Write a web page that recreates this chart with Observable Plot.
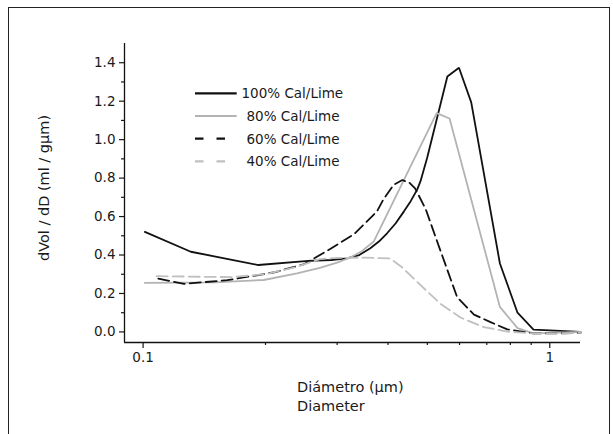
<!DOCTYPE html>
<html><head><meta charset="utf-8">
<script src="https://cdn.jsdelivr.net/npm/d3@7"></script>
<script src="https://cdn.jsdelivr.net/npm/@observablehq/plot@0.6"></script>
<style>
html,body{margin:0;padding:0;background:#fff;overflow:hidden;}
#wrap{position:relative;width:613px;height:434px;overflow:hidden;}
#border{position:absolute;left:8px;top:7px;width:600px;height:450px;border:1.5px solid #222;border-bottom:none;}
#chart{position:absolute;left:0;top:0;}
</style></head><body>
<div id="wrap"><div id="border"></div><div id="chart"></div></div>
<script>
// ---- data ----
const x100 = [0.101, 0.131, 0.192, 0.255, 0.29, 0.317, 0.34, 0.362, 0.38, 0.398, 0.418, 0.438, 0.455, 0.472, 0.481, 0.4995, 0.56, 0.598, 0.641, 0.754, 0.833, 0.912, 1.0, 1.19];
const y100 = [0.52, 0.417, 0.348, 0.37, 0.374, 0.382, 0.40, 0.435, 0.47, 0.513, 0.565, 0.627, 0.68, 0.74, 0.784, 0.906, 1.328, 1.374, 1.194, 0.356, 0.10, 0.012, 0.008, 0.0];

const x80 = [0.101, 0.15, 0.198, 0.239, 0.272, 0.30, 0.323, 0.345, 0.369, 0.527, 0.567, 0.754, 0.833, 0.912, 1.0, 1.19];
const y80 = [0.255, 0.258, 0.27, 0.304, 0.333, 0.36, 0.387, 0.42, 0.47, 1.138, 1.11, 0.13, 0.02, -0.008, -0.005, 0.0];

const x60 = [0.109, 0.126, 0.161, 0.209, 0.248, 0.281, 0.33, 0.376, 0.39, 0.413, 0.434, 0.452, 0.467, 0.495, 0.539, 0.592, 0.651, 0.715, 0.786, 0.91, 1.0, 1.19];
const y60 = [0.277, 0.25, 0.269, 0.309, 0.351, 0.417, 0.508, 0.627, 0.69, 0.765, 0.79, 0.775, 0.745, 0.64, 0.42, 0.18, 0.09, 0.051, 0.013, -0.008, -0.008, -0.005];

const x40 = [0.108, 0.138, 0.165, 0.2, 0.24, 0.272, 0.30, 0.35, 0.405, 0.434, 0.472, 0.539, 0.603, 0.688, 0.786, 0.91, 1.0, 1.19];
const y40 = [0.29, 0.287, 0.285, 0.30, 0.34, 0.379, 0.385, 0.386, 0.382, 0.335, 0.26, 0.145, 0.075, 0.025, 0.002, -0.008, -0.008, -0.005];

const seriesNames = ["100% Cal/Lime", "80% Cal/Lime", "60% Cal/Lime", "40% Cal/Lime"];
const seriesColors = ["#111111", "#b3b3b3", "#111111", "#c0c0c0"];
const seriesDash = [null, null, "11,5", "11,5"];
const seriesX = [x100, x80, x60, x40];
const seriesY = [y100, y80, y60, y40];

const xMajorTicks = [0.1, 1];
const xMinorTicks = [0.2, 0.3, 0.4, 0.5, 0.6, 0.7, 0.8, 0.9];
const yMajorTicks = [0, 0.2, 0.4, 0.6, 0.8, 1.0, 1.2, 1.4];
const yMinorTicks = [0.1, 0.3, 0.5, 0.7, 0.9, 1.1, 1.3];
const xDomain = [0.09, 1.19];
const yDomain = [-0.055, 1.5];

const xTitle = "Diámetro (μm)";
const xTitle2 = "Diameter";
const yTitle = "dVol / dD (ml / gμm)";

// ---- build ----
const rows = seriesNames.flatMap((name, i) => seriesX[i].map((x, j) => ({series: name, x, y: seriesY[i][j]})));

const FONT = "DejaVu Sans";
const lineMarks = seriesNames.map((name, i) =>
  Plot.line(rows.filter(d => d.series === name), {
    x: "x", y: "y", stroke: seriesColors[i], strokeWidth: 1.8,
    strokeDasharray: seriesDash[i] || undefined, strokeLinejoin: "miter"
  })
);

const plot = Plot.plot({
  width: 613, height: 434,
  marginLeft: 124, marginRight: 33, marginTop: 43, marginBottom: 92,
  style: {fontFamily: FONT, fontSize: "13.5px", color: "#1a1a1a", background: "transparent"},
  x: {type: "log", domain: xDomain, label: null},
  y: {domain: yDomain, label: null},
  marks: [
    ...lineMarks,
    Plot.axisX(xMinorTicks, {tickSize: 3, tickFormat: () => "", label: null, strokeWidth: 1.2}),
    Plot.axisX(xMajorTicks, {tickSize: 6, tickPadding: 4, tickFormat: d => String(d), label: null, strokeWidth: 1.2}),
    Plot.axisY(yMinorTicks, {tickSize: 3, tickFormat: () => "", label: null, strokeWidth: 1.2}),
    Plot.axisY(yMajorTicks, {tickSize: 5, tickPadding: 4, tickFormat: d => d.toFixed(1), label: null, strokeWidth: 1.2}),
    Plot.ruleX([xDomain[0]], {stroke: "#111", strokeWidth: 1.3}),
    Plot.ruleY([yDomain[0]], {stroke: "#111", strokeWidth: 1.3})
  ]
});
document.getElementById("chart").appendChild(plot);

// ---- titles and legend added to the svg ----
const svg = d3.select(plot);
const g = svg.append("g").attr("font-family", FONT).attr("font-size", "14.5px").attr("fill", "#1a1a1a").attr("text-anchor", "start");
g.append("text").attr("x", 297).attr("y", 391.5).text(xTitle);
g.append("text").attr("x", 297).attr("y", 411).text(xTitle2);
g.append("text").attr("transform", "translate(49,188) rotate(-90)").attr("text-anchor", "middle").text(yTitle);

const lg = svg.append("g").attr("font-family", FONT).attr("font-size", "13.5px").attr("text-anchor", "start");
const legendDash = [null, null, "8.5,13", "8.5,13"];
const legendTextX = [241.5, 246.5, 246.5, 246.5];
seriesNames.forEach((name, i) => {
  const yy = 93.3 + i * 22.7;
  lg.append("line").attr("x1", 195).attr("x2", seriesDash[i] ? 226 : 236.7)
    .attr("y1", yy).attr("y2", yy)
    .attr("stroke", seriesColors[i]).attr("stroke-width", 2.2)
    .attr("stroke-dasharray", legendDash[i]);
  lg.append("text").attr("x", legendTextX[i]).attr("y", yy + 5).attr("fill", "#1a1a1a").text(name);
});
</script>
</body></html>
